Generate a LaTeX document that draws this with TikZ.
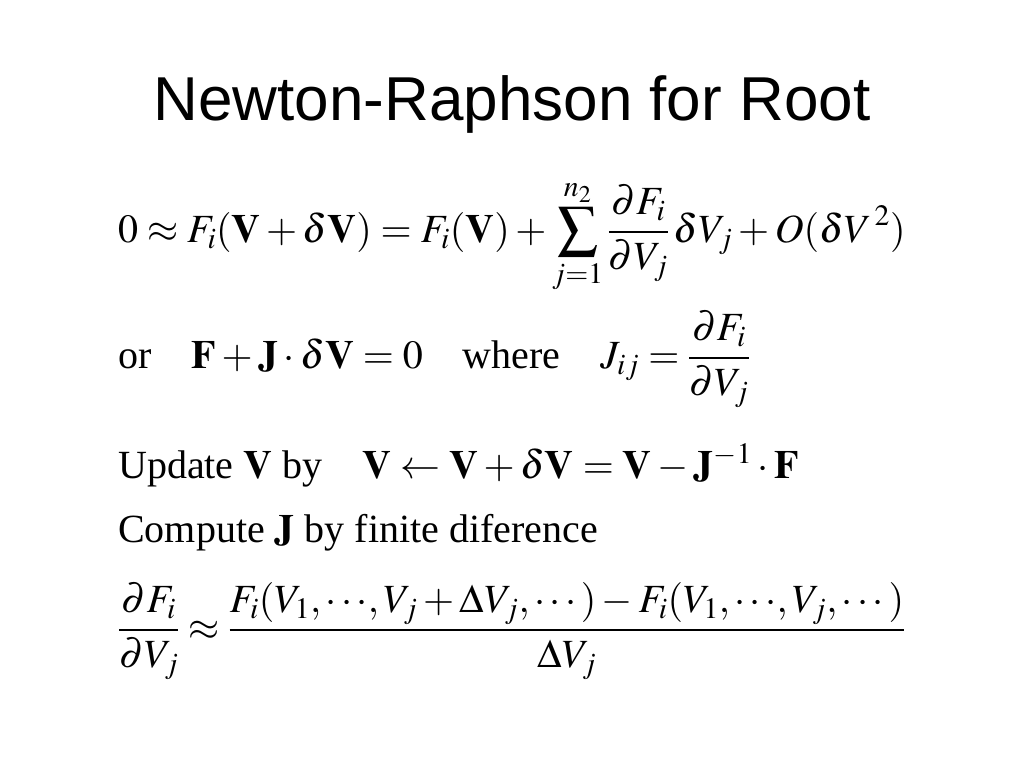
\documentclass[tikz,border=0pt]{standalone}
\usepackage{amsmath}
\usepackage{mathptmx}
\usepackage{fontspec}
\setmainfont{Liberation Serif}
\newfontfamily\titlefont{Liberation Sans}
\usetikzlibrary{positioning}
\begin{document}
\begin{tikzpicture}[x=1pt, y=-1pt,
    eqline/.style = {anchor=base west, inner sep=0pt, font=\fontsize{40}{48}\selectfont}]
  \useasboundingbox (0,0) rectangle (1024,768);
  \node[font=\titlefont\fontsize{62}{70}\selectfont, anchor=base] (title) at (512,120) {Newton-Raphson for Root};
  \node[eqline] (taylor) at (118,242) {$0\approx F_i(\mathbf{V}+\delta\mathbf{V})=F_i(\mathbf{V})+\displaystyle\sum_{j=1}^{n_2}\frac{\partial F_i}{\partial V_j}\,\delta V_j+O(\delta V^{\,2})$};
  \node[eqline] (jacob) at (118,368) {or\quad$\mathbf{F}+\mathbf{J}\cdot\delta\mathbf{V}=0$\quad where\quad $J_{ij}=\dfrac{\partial F_i}{\partial V_j}$};
  \node[eqline] (update) at (118,478) {Update $\mathbf{V}$ by\quad $\mathbf{V}\leftarrow\mathbf{V}+\delta\mathbf{V}=\mathbf{V}-\mathbf{J}^{-1}\cdot\mathbf{F}$};
  \node[eqline] (compute) at (118,542) {Compute $\mathbf{J}$ by finite diference};
  \node[eqline] (finite) at (118,640) {$\dfrac{\partial F_i}{\partial V_j}\approx\dfrac{F_i(V_1,\cdots\!,V_j+\Delta V_j,\cdots)-F_i(V_1,\cdots\!,V_j,\cdots)}{\Delta V_j}$};
\end{tikzpicture}
\end{document}
